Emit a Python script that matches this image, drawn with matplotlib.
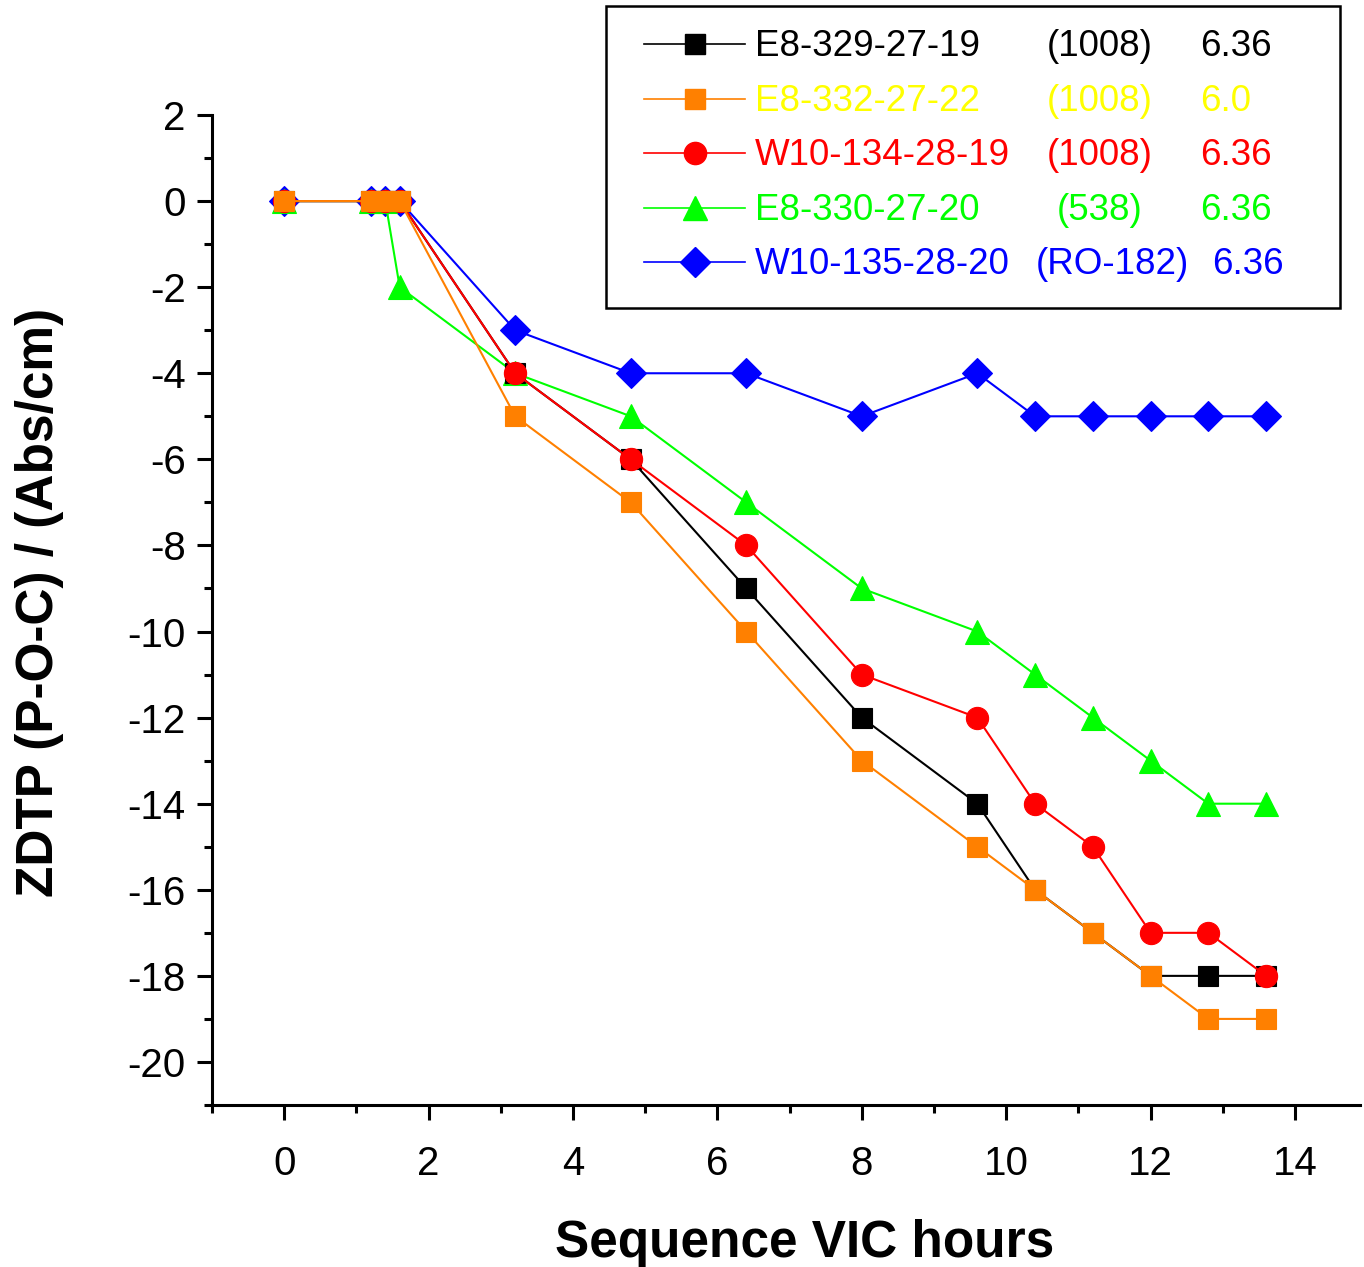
import matplotlib

matplotlib.use("Agg")
import matplotlib.pyplot as plt
from matplotlib.lines import Line2D
from matplotlib.patches import Rectangle
from matplotlib.ticker import MultipleLocator

plt.rcParams["font.family"] = ["Liberation Sans", "DejaVu Sans"]
plt.rcParams["axes.unicode_minus"] = False

hours = [0, 1.2, 1.4, 1.6, 3.2, 4.8, 6.4, 8.0, 9.6, 10.4, 11.2, 12.0, 12.8, 13.6]

e8_329 = [0, 0, 0, 0, -4, -6, -9, -12, -14, -16, -17, -18, -18, -18]
e8_332 = [0, 0, 0, 0, -5, -7, -10, -13, -15, -16, -17, -18, -19, -19]
w10_134 = [0, 0, 0, 0, -4, -6, -8, -11, -12, -14, -15, -17, -17, -18]
e8_330 = [0, 0, 0, -2, -4, -5, -7, -9, -10, -11, -12, -13, -14, -14]
w10_135 = [0, 0, 0, 0, -3, -4, -4, -5, -4, -5, -5, -5, -5, -5]

names = ["E8-329-27-19", "E8-332-27-22", "W10-134-28-19", "E8-330-27-20", "W10-135-28-20"]
oils = ["(1008)", "(1008)", "(1008)", "(538)", "(RO-182)"]
values = ["6.36", "6.0", "6.36", "6.36", "6.36"]

# style per series: line colour, marker, marker size, text colour
styles = [
    ("#000000", "s", 14, "#000000"),
    ("#FF8000", "s", 14, "#FFFF00"),
    ("#FF0000", "o", 16, "#FF0000"),
    ("#00FF00", "^", 17, "#00FF00"),
    ("#0000FF", "D", 15.5, "#0000FF"),
]
series = [e8_329, e8_332, w10_134, e8_330, w10_135]
draw_order = [4, 3, 0, 2, 1]

W, H = 1364, 1267
fig = plt.figure(figsize=(W / 100, H / 100), dpi=100)
ax = fig.add_axes([212 / W, 1 - 1105 / H, (1360 - 212) / W, (1105 - 115) / H])

for i in draw_order:
    col, mk, ms, _ = styles[i]
    ax.plot(hours, series[i], color=col, lw=1.5, marker=mk, ms=ms,
            mfc=col, mec=col, mew=0.8, zorder=3 + draw_order.index(i))

ax.set_xlim(-1, 14.9)
ax.set_ylim(-21, 2)
ax.xaxis.set_minor_locator(MultipleLocator(1))
ax.yaxis.set_minor_locator(MultipleLocator(1))
ax.set_xticks(range(0, 15, 2))
ax.set_yticks(range(-20, 3, 2))
ax.spines["top"].set_visible(False)
ax.spines["right"].set_visible(False)
for s in ("left", "bottom"):
    ax.spines[s].set_linewidth(2.2)
ax.tick_params(which="major", direction="out", length=11, width=2.2,
               labelsize=29, pad=8)
ax.tick_params(axis="x", which="major", pad=18)
ax.tick_params(which="minor", direction="out", length=6, width=2.2)
ax.set_xlabel("Sequence VIC hours", fontsize=37, fontweight="bold")
ax.set_ylabel("ZDTP (P-O-C) / (Abs/cm)", fontsize=37, fontweight="bold")
ax.xaxis.set_label_coords((805 - 212) / 1148, -(1257 - 1105) / 990, transform=ax.transAxes)
ax.yaxis.set_label_coords(-(212 - 40) / 1148, (1105 - 602) / 990, transform=ax.transAxes)
ax.xaxis.label.set_va("baseline")
ax.yaxis.label.set_va("center")

# legend box drawn in figure pixel coordinates
lg = fig.add_axes([0, 0, 1, 1], zorder=10)
lg.set_xlim(0, W)
lg.set_ylim(H, 0)
lg.axis("off")
lg.add_patch(Rectangle((606, 6), 734, 302, fill=True, fc="white",
                       ec="black", lw=1.8))
row_y = [44, 99, 153, 208, 262]
col2_x = [1100, 1100, 1100, 1100, 1112]
col3_x = [1200, 1200, 1200, 1200, 1212]
for i in range(5):
    col, mk, ms, tcol = styles[i]
    y = row_y[i]
    lg.add_line(Line2D([644, 745], [y, y], color=col, lw=1.2))
    lg.add_line(Line2D([695], [y], marker=mk, ms=ms, color=col, mec=col))
    lg.text(755, y + 2.5, names[i], color=tcol, fontsize=26.5, va="center", ha="left")
    lg.text(col2_x[i], y + 2.5, oils[i], color=tcol, fontsize=26.5, va="center", ha="center")
    lg.text(col3_x[i], y + 2.5, values[i], color=tcol, fontsize=26.5, va="center", ha="left")

fig.savefig("out.png", dpi=100)
